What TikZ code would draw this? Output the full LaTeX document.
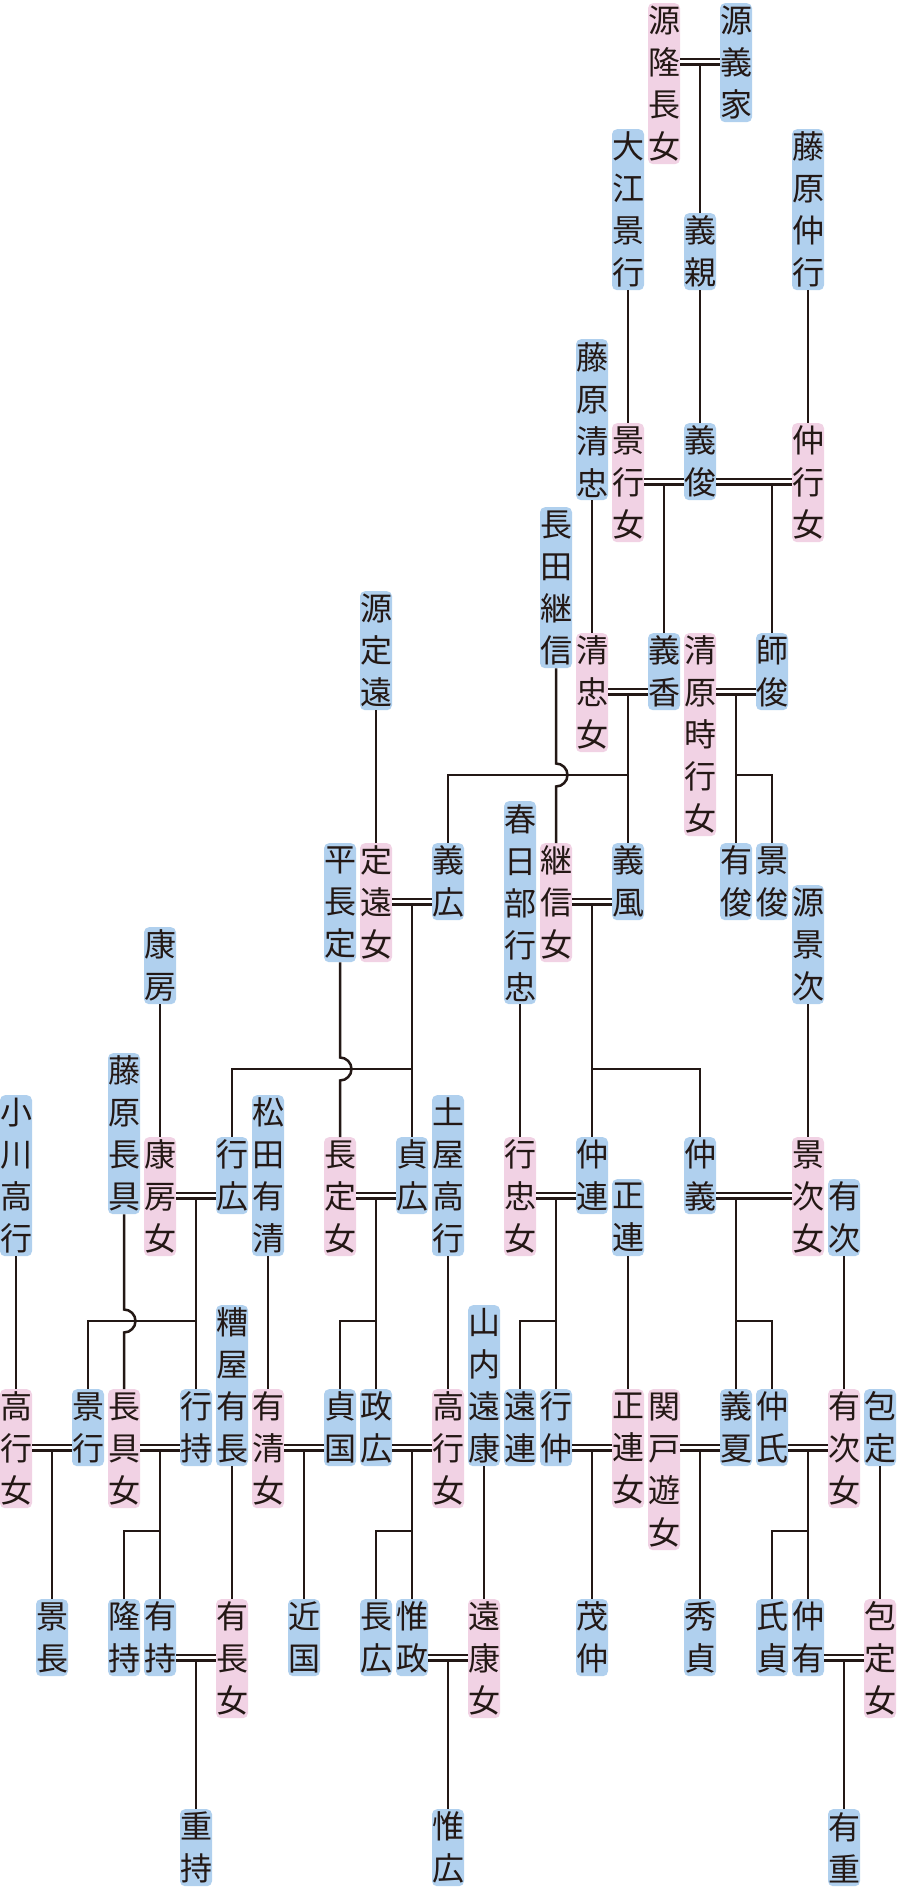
\documentclass[tikz,border=0pt]{standalone}
\usepackage{fontspec}
\newfontfamily\jp{Noto Sans CJK JP}
\usetikzlibrary{calc}
\definecolor{manblue}{RGB}{176,208,238}
\definecolor{womanpink}{RGB}{241,210,228}
\definecolor{ink}{RGB}{35,24,21}
\tikzset{
  person/.style={rounded corners=5pt, inner sep=0pt, minimum width=32pt, align=center,
    anchor=north, text=ink, font=\jp\fontsize{32}{42}\selectfont},
  man/.style={person, fill=manblue},
  woman/.style={person, fill=womanpink},
  nchar/.style={minimum height={42*#1-7}},
  kin/.style={ink, line width=2.5pt},
  wed/.style={ink, line width=2.5pt, double, double distance=3pt}
}

\begin{document}
\begin{tikzpicture}[x=1pt, y=1pt]
\fill[white] (0,0) rectangle (900,-1890);

\node[woman, nchar=4] (takanagajo) at (664,-3) {源\\隆\\長\\女};
\node[man, nchar=3] (yoshiie) at (736,-3) {源\\義\\家};

\node[man, nchar=4] (kagetsura) at (628,-129) {大\\江\\景\\行};
\node[man, nchar=2] (yoshichika) at (700,-213) {義\\親};
\node[man, nchar=4] (nakayuki) at (808,-129) {藤\\原\\仲\\行};
\node[man, nchar=4] (kiyotada) at (592,-339) {藤\\原\\清\\忠};

\node[woman, nchar=3] (kageyukijo) at (628,-423) {景\\行\\女};
\node[man, nchar=2] (yoshitoshi) at (700,-423) {義\\俊};
\node[woman, nchar=3] (nakayukijo) at (808,-423) {仲\\行\\女};
\node[man, nchar=4] (tsugunobu) at (556,-507) {長\\田\\継\\信};
\node[man, nchar=3] (sadatou) at (376,-591) {源\\定\\遠};

\node[woman, nchar=3] (kiyotadajo) at (592,-633) {清\\忠\\女};
\node[man, nchar=2] (yoshika) at (664,-633) {義\\香};
\node[woman, nchar=5] (tokiyukijo) at (700,-633) {清\\原\\時\\行\\女};
\node[man, nchar=2] (morotoshi) at (772,-633) {師\\俊};
\node[man, nchar=5] (yukitada) at (520,-801) {春\\日\\部\\行\\忠};

\node[man, nchar=3] (nagasada) at (340,-843) {平\\長\\定};
\node[woman, nchar=3] (sadatoujo) at (376,-843) {定\\遠\\女};
\node[man, nchar=2] (yoshihiro) at (448,-843) {義\\広};
\node[woman, nchar=3] (tsugunobujo) at (556,-843) {継\\信\\女};
\node[man, nchar=2] (yoshikaze) at (628,-843) {義\\風};
\node[man, nchar=2] (aritoshi) at (736,-843) {有\\俊};
\node[man, nchar=2] (kagetoshi) at (772,-843) {景\\俊};
\node[man, nchar=3] (kagetsugu) at (808,-885) {源\\景\\次};
\node[man, nchar=2] (yasufusa) at (160,-927) {康\\房};
\node[man, nchar=4] (nagatomo) at (124,-1053) {藤\\原\\長\\具};
\node[man, nchar=4] (ogawa) at (16,-1095) {小\\川\\高\\行};
\node[man, nchar=4] (arikiyo) at (268,-1095) {松\\田\\有\\清};
\node[man, nchar=4] (tsuchiya) at (448,-1095) {土\\屋\\高\\行};

\node[woman, nchar=3] (yasufusajo) at (160,-1137) {康\\房\\女};
\node[man, nchar=2] (yukihiro) at (232,-1137) {行\\広};
\node[woman, nchar=3] (nagasadajo) at (340,-1137) {長\\定\\女};
\node[man, nchar=2] (sadahiro) at (412,-1137) {貞\\広};
\node[woman, nchar=3] (yukitadajo) at (520,-1137) {行\\忠\\女};
\node[man, nchar=2] (nakatsura) at (592,-1137) {仲\\連};
\node[man, nchar=2] (nakayoshi) at (700,-1137) {仲\\義};
\node[woman, nchar=3] (kagetsugujo) at (808,-1137) {景\\次\\女};
\node[man, nchar=2] (masatsura) at (628,-1179) {正\\連};
\node[man, nchar=2] (aritsugu) at (844,-1179) {有\\次};
\node[man, nchar=4] (arinaga) at (232,-1305) {糟\\屋\\有\\長};
\node[man, nchar=4] (toyasu) at (484,-1305) {山\\内\\遠\\康};

\node[woman, nchar=3] (ogawajo) at (16,-1389) {高\\行\\女};
\node[man, nchar=2] (kageyuki) at (88,-1389) {景\\行};
\node[woman, nchar=3] (nagatomojo) at (124,-1389) {長\\具\\女};
\node[man, nchar=2] (yukimochi) at (196,-1389) {行\\持};
\node[woman, nchar=3] (arikiyojo) at (268,-1389) {有\\清\\女};
\node[man, nchar=2] (sadakuni) at (340,-1389) {貞\\国};
\node[man, nchar=2] (masahiro) at (376,-1389) {政\\広};
\node[woman, nchar=3] (tsuchiyajo) at (448,-1389) {高\\行\\女};
\node[man, nchar=2] (totsura) at (520,-1389) {遠\\連};
\node[man, nchar=2] (yukinaka) at (556,-1389) {行\\仲};
\node[woman, nchar=3] (masatsurajo) at (628,-1389) {正\\連\\女};
\node[woman, nchar=4] (sekidojo) at (664,-1389) {関\\戸\\遊\\女};
\node[man, nchar=2] (yoshinatsu) at (736,-1389) {義\\夏};
\node[man, nchar=2] (nakauji) at (772,-1389) {仲\\氏};
\node[woman, nchar=3] (aritsugujo) at (844,-1389) {有\\次\\女};
\node[man, nchar=2] (kanesada) at (880,-1389) {包\\定};

\node[man, nchar=2] (kagenaga) at (52,-1599) {景\\長};
\node[man, nchar=2] (takamochi) at (124,-1599) {隆\\持};
\node[man, nchar=2] (arimochi) at (160,-1599) {有\\持};
\node[woman, nchar=3] (arinagajo) at (232,-1599) {有\\長\\女};
\node[man, nchar=2] (chikakuni) at (304,-1599) {近\\国};
\node[man, nchar=2] (nagahiro) at (376,-1599) {長\\広};
\node[man, nchar=2] (koremasa) at (412,-1599) {惟\\政};
\node[woman, nchar=3] (toyasujo) at (484,-1599) {遠\\康\\女};
\node[man, nchar=2] (shigenaka) at (592,-1599) {茂\\仲};
\node[man, nchar=2] (hidesada) at (700,-1599) {秀\\貞};
\node[man, nchar=2] (ujisada) at (772,-1599) {氏\\貞};
\node[man, nchar=2] (nakaari) at (808,-1599) {仲\\有};
\node[woman, nchar=3] (kanesadajo) at (880,-1599) {包\\定\\女};

\node[man, nchar=2] (shigemochi) at (196,-1809) {重\\持};
\node[man, nchar=2] (korehiro) at (448,-1809) {惟\\広};
\node[man, nchar=2] (arishige) at (844,-1809) {有\\重};

% marriages
\draw[wed] ([yshift=-58.75pt]takanagajo.north east) -- ([yshift=-58.75pt]yoshiie.north west);
\draw[wed] ([yshift=-58.75pt]kageyukijo.north east) -- ([yshift=-58.75pt]yoshitoshi.north west);
\draw[wed] ([yshift=-58.75pt]yoshitoshi.north east) -- ([yshift=-58.75pt]nakayukijo.north west);
\draw[wed] ([yshift=-58.75pt]kiyotadajo.north east) -- ([yshift=-58.75pt]yoshika.north west);
\draw[wed] ([yshift=-58.75pt]tokiyukijo.north east) -- ([yshift=-58.75pt]morotoshi.north west);
\draw[wed] ([yshift=-58.75pt]sadatoujo.north east) -- ([yshift=-58.75pt]yoshihiro.north west);
\draw[wed] ([yshift=-58.75pt]tsugunobujo.north east) -- ([yshift=-58.75pt]yoshikaze.north west);
\draw[wed] ([yshift=-58.75pt]yasufusajo.north east) -- ([yshift=-58.75pt]yukihiro.north west);
\draw[wed] ([yshift=-58.75pt]nagasadajo.north east) -- ([yshift=-58.75pt]sadahiro.north west);
\draw[wed] ([yshift=-58.75pt]yukitadajo.north east) -- ([yshift=-58.75pt]nakatsura.north west);
\draw[wed] ([yshift=-58.75pt]nakayoshi.north east) -- ([yshift=-58.75pt]kagetsugujo.north west);
\draw[wed] ([yshift=-58.75pt]ogawajo.north east) -- ([yshift=-58.75pt]kageyuki.north west);
\draw[wed] ([yshift=-58.75pt]nagatomojo.north east) -- ([yshift=-58.75pt]yukimochi.north west);
\draw[wed] ([yshift=-58.75pt]arikiyojo.north east) -- ([yshift=-58.75pt]sadakuni.north west);
\draw[wed] ([yshift=-58.75pt]masahiro.north east) -- ([yshift=-58.75pt]tsuchiyajo.north west);
\draw[wed] ([yshift=-58.75pt]yukinaka.north east) -- ([yshift=-58.75pt]masatsurajo.north west);
\draw[wed] ([yshift=-58.75pt]sekidojo.north east) -- ([yshift=-58.75pt]yoshinatsu.north west);
\draw[wed] ([yshift=-58.75pt]nakauji.north east) -- ([yshift=-58.75pt]aritsugujo.north west);
\draw[wed] ([yshift=-58.75pt]arimochi.north east) -- ([yshift=-58.75pt]arinagajo.north west);
\draw[wed] ([yshift=-58.75pt]koremasa.north east) -- ([yshift=-58.75pt]toyasujo.north west);
\draw[wed] ([yshift=-58.75pt]nakaari.north east) -- ([yshift=-58.75pt]kanesadajo.north west);

\coordinate (m0) at ([yshift=-61.5pt]yoshiie.north);
\coordinate (m1) at ([yshift=-61.5pt]yoshitoshi.north);
\coordinate (m3) at ([yshift=-61.5pt]yoshika.north);
\coordinate (m4) at ([yshift=-61.5pt]morotoshi.north);
\coordinate (m5) at ([yshift=-61.5pt]yoshihiro.north);
\coordinate (m7) at ([yshift=-61.5pt]yukihiro.north);
\coordinate (m11) at ([yshift=-61.5pt]kageyuki.north);
\coordinate (m18) at ([yshift=-61.5pt]arimochi.north);

% children
\draw[kin] (m0 -| yoshichika) -- (yoshichika.north);
\draw[kin] (m1 -| yoshika) -- (yoshika.north);
\draw[kin] (m1 -| morotoshi) -- (morotoshi.north);
\draw[kin] (m3 -| yoshikaze) -- (yoshikaze.north);
\draw[kin] ([yshift=68pt]yoshihiro.north -| yoshikaze) -| (yoshihiro.north);
\draw[kin] (m3 -| aritoshi) -- (aritoshi.north);
\draw[kin] ([yshift=68pt]kagetoshi.north -| aritoshi) -| (kagetoshi.north);
\draw[kin] (m5 -| sadahiro) -- (sadahiro.north);
\draw[kin] ([yshift=68pt]yukihiro.north -| sadahiro) -| (yukihiro.north);
\draw[kin] (m5 -| nakatsura) -- (nakatsura.north);
\draw[kin] ([yshift=68pt]nakayoshi.north -| nakatsura) -| (nakayoshi.north);
\draw[kin] (m7 -| yukimochi) -- (yukimochi.north);
\draw[kin] ([yshift=68pt]kageyuki.north -| yukimochi) -| (kageyuki.north);
\draw[kin] (m7 -| masahiro) -- (masahiro.north);
\draw[kin] ([yshift=68pt]sadakuni.north -| masahiro) -| (sadakuni.north);
\draw[kin] (m7 -| yukinaka) -- (yukinaka.north);
\draw[kin] ([yshift=68pt]totsura.north -| yukinaka) -| (totsura.north);
\draw[kin] (m7 -| yoshinatsu) -- (yoshinatsu.north);
\draw[kin] ([yshift=68pt]nakauji.north -| yoshinatsu) -| (nakauji.north);
\draw[kin] (m11 -| kagenaga) -- (kagenaga.north);
\draw[kin] (m11 -| arimochi) -- (arimochi.north);
\draw[kin] ([yshift=68pt]takamochi.north -| arimochi) -| (takamochi.north);
\draw[kin] (m11 -| chikakuni) -- (chikakuni.north);
\draw[kin] (m11 -| koremasa) -- (koremasa.north);
\draw[kin] ([yshift=68pt]nagahiro.north -| koremasa) -| (nagahiro.north);
\draw[kin] (m11 -| shigenaka) -- (shigenaka.north);
\draw[kin] (m11 -| hidesada) -- (hidesada.north);
\draw[kin] (m11 -| nakaari) -- (nakaari.north);
\draw[kin] ([yshift=68pt]ujisada.north -| nakaari) -| (ujisada.north);
\draw[kin] (m18 -| shigemochi) -- (shigemochi.north);
\draw[kin] (m18 -| korehiro) -- (korehiro.north);
\draw[kin] (m18 -| arishige) -- (arishige.north);

% fathers of wives
\draw[kin] (kagetsura.south) -- (kageyukijo.north);
\draw[kin] (yoshichika.south) -- (yoshitoshi.north);
\draw[kin] (nakayuki.south) -- (nakayukijo.north);
\draw[kin] (kiyotada.south) -- (kiyotadajo.north);
\draw[kin] (tsugunobu.south) -- ([yshift=79.5pt]tsugunobujo.north)
  arc[start angle=90, end angle=-90, radius=11.5pt] -- (tsugunobujo.north);
\draw[kin] (sadatou.south) -- (sadatoujo.north);
\draw[kin] (yukitada.south) -- (yukitadajo.north);
\draw[kin] (kagetsugu.south) -- (kagetsugujo.north);
\draw[kin] (yasufusa.south) -- (yasufusajo.north);
\draw[kin] (nagasada.south) -- ([yshift=79.5pt]nagasadajo.north)
  arc[start angle=90, end angle=-90, radius=11.5pt] -- (nagasadajo.north);
\draw[kin] (nagatomo.south) -- ([yshift=79.5pt]nagatomojo.north)
  arc[start angle=90, end angle=-90, radius=11.5pt] -- (nagatomojo.north);
\draw[kin] (ogawa.south) -- (ogawajo.north);
\draw[kin] (arikiyo.south) -- (arikiyojo.north);
\draw[kin] (tsuchiya.south) -- (tsuchiyajo.north);
\draw[kin] (masatsura.south) -- (masatsurajo.north);
\draw[kin] (aritsugu.south) -- (aritsugujo.north);
\draw[kin] (arinaga.south) -- (arinagajo.north);
\draw[kin] (toyasu.south) -- (toyasujo.north);
\draw[kin] (kanesada.south) -- (kanesadajo.north);
\end{tikzpicture}
\end{document}
